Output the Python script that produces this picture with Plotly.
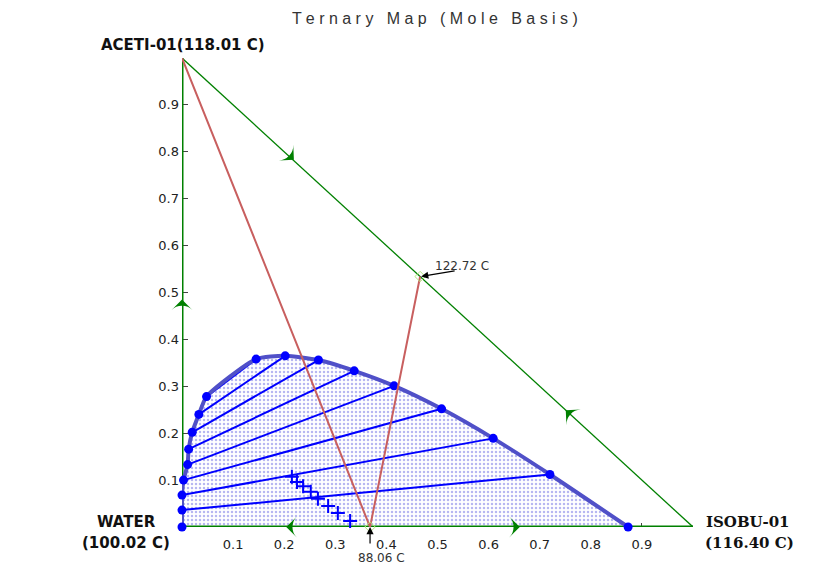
import plotly.graph_objects as go

# Liquid-liquid envelope (x = ISOBU-01, y = ACETI-01 mole fractions)
left_x = [0.0, 0.0, 0.0, 0.003, 0.011, 0.013, 0.020, 0.033, 0.048]
left_y = [0.0, 0.036, 0.068, 0.100, 0.133, 0.166, 0.202, 0.240, 0.278]
right_x = [0.873, 0.720, 0.609, 0.508, 0.415, 0.337, 0.267, 0.202, 0.145]
right_y = [0.0, 0.112, 0.189, 0.252, 0.301, 0.333, 0.356, 0.365, 0.358]

# Distillation boundary: ACETI vertex -> bottom azeotrope -> edge azeotrope
boundary_x = [0.0, 0.368, 0.466]
boundary_y = [1.0, 0.0, 0.534]
azeo_x = [0.466, 0.368]
azeo_y = [0.534, 0.0]
azeo_temps = ["122.72 C", "88.06 C"]

# Plait-point approach markers
plus_x = [0.215, 0.225, 0.237, 0.252, 0.266, 0.286, 0.305, 0.329]
plus_y = [0.107, 0.096, 0.087, 0.075, 0.060, 0.045, 0.030, 0.013]

# Direction arrows along the triangle edges
arrow_x = [0.0, 0.204, 0.661, 0.219, 0.751]
arrow_y = [0.485, 0.0, 0.0, 0.783, 0.249]
arrow_angle = [0, 270, 90, 132.5, 312.5]

tick_vals = [0.1, 0.2, 0.3, 0.4, 0.5, 0.6, 0.7, 0.8, 0.9]
tick_text = ["0.1", "0.2", "0.3", "0.4", "0.5", "0.6", "0.7", "0.8", "0.9"]

curve_x = left_x + right_x[::-1]
curve_y = left_y + right_y[::-1]

BLUE = "rgb(0,0,255)"
ENVELOPE = "rgb(80,80,200)"
GREEN = "rgb(0,128,0)"
RED = "rgb(200,95,95)"

fig = go.Figure()

# dotted two-phase region
fig.add_trace(go.Scatter(
    x=curve_x, y=curve_y, mode="lines", fill="toself",
    line=dict(width=0, shape="spline", smoothing=0.6),
    fillcolor="white",
    fillpattern=dict(shape=".", fgcolor="rgb(110,110,225)", bgcolor="white",
                     size=4, solidity=0.3),
    hoverinfo="skip", cliponaxis=False,
))

# triangle edges
fig.add_trace(go.Scatter(x=[0, 0], y=[0, 1], mode="lines",
                         line=dict(color=GREEN, width=3), cliponaxis=False))
fig.add_trace(go.Scatter(x=[0, 1], y=[0, 0], mode="lines",
                         line=dict(color=GREEN, width=3), cliponaxis=False))
fig.add_trace(go.Scatter(x=[0, 1], y=[1, 0], mode="lines",
                         line=dict(color=GREEN, width=1.3), cliponaxis=False))
fig.add_trace(go.Scatter(
    x=arrow_x, y=arrow_y, mode="markers", cliponaxis=False,
    marker=dict(symbol="arrow-wide", size=15, angle=arrow_angle, color=GREEN,
                line=dict(width=0)),
))

# tie lines
for lx, ly, rx, ry in zip(left_x[1:], left_y[1:], right_x[1:], right_y[1:]):
    fig.add_trace(go.Scatter(x=[lx, rx], y=[ly, ry], mode="lines",
                             line=dict(color=BLUE, width=2), cliponaxis=False))

# envelope curve
fig.add_trace(go.Scatter(
    x=curve_x, y=curve_y, mode="lines", cliponaxis=False,
    line=dict(color=ENVELOPE, width=4, shape="spline", smoothing=0.6),
))
fig.add_trace(go.Scatter(
    x=curve_x, y=curve_y, mode="markers", cliponaxis=False,
    marker=dict(color=BLUE, size=9),
))

# plus markers
fig.add_trace(go.Scatter(
    x=plus_x, y=plus_y, mode="markers", cliponaxis=False,
    marker=dict(symbol="cross-thin", size=10, line=dict(color=BLUE, width=2)),
))

# distillation boundary
fig.add_trace(go.Scatter(x=boundary_x, y=boundary_y, mode="lines",
                         line=dict(color=RED, width=2), cliponaxis=False))
fig.add_trace(go.Scatter(
    x=azeo_x, y=azeo_y, mode="markers", cliponaxis=False,
    marker=dict(symbol="diamond-open", size=8,
                line=dict(color="rgb(255,130,150)", width=1)),
))

label_font = dict(family="DejaVu Sans", size=15, color="#111")
serif_font = dict(family="DejaVu Serif", size=15, color="#111")
ann = []
ann.append(dict(x=0, y=1, xref="x", yref="y", text="<b>ACETI-01(118.01 C)</b>",
                showarrow=False, font=label_font, xshift=1, yshift=13))
ann.append(dict(x=0, y=0, xref="x", yref="y", text="<b>WATER</b>",
                showarrow=False, font=label_font, xshift=-56, yshift=5))
ann.append(dict(x=0, y=0, xref="x", yref="y", text="<b>(100.02 C)</b>",
                showarrow=False, font=label_font, xshift=-56, yshift=-16))
ann.append(dict(x=1, y=0, xref="x", yref="y", text="<b>ISOBU-01</b>",
                showarrow=False, font=serif_font, xshift=55, yshift=5))
ann.append(dict(x=1, y=0, xref="x", yref="y", text="<b>(116.40 C)</b>",
                showarrow=False, font=serif_font, xshift=56, yshift=-16))

temp_font = dict(family="DejaVu Sans", size=12, color="#333")
# edge azeotrope label
ann.append(dict(x=azeo_x[0], y=azeo_y[0], xref="x", yref="y", text="",
                showarrow=True, ax=36, ay=-6, arrowhead=2, arrowsize=1.2,
                arrowwidth=1.2, arrowcolor="black", standoff=1))
ann.append(dict(x=azeo_x[0], y=azeo_y[0], xref="x", yref="y", text=azeo_temps[0],
                showarrow=False, font=temp_font, xshift=42, yshift=11))
# bottom azeotrope label
ann.append(dict(x=azeo_x[1], y=azeo_y[1], xref="x", yref="y", text="",
                showarrow=True, ax=0, ay=18, arrowhead=2, arrowsize=1.2,
                arrowwidth=1.2, arrowcolor="black", standoff=0))
ann.append(dict(x=azeo_x[1], y=azeo_y[1], xref="x", yref="y", text=azeo_temps[1],
                showarrow=False, font=temp_font, xshift=11, yshift=-31))

fig.update_layout(
    width=819, height=567,
    margin=dict(l=182, r=126, t=58, b=40),
    paper_bgcolor="white", plot_bgcolor="white",
    showlegend=False,
    title=dict(text="T e r n a r y   M a p   ( M o l e   B a s i s )",
               x=0.531, xanchor="center", y=0.968, yanchor="middle",
               font=dict(family="Liberation Sans", size=16, color="#333")),
    annotations=ann,
    xaxis=dict(range=[0, 1], tickvals=tick_vals, ticktext=tick_text,
               ticks="inside", ticklen=4, tickcolor="#444",
               ticklabelstandoff=8,
               showgrid=False, zeroline=False, showline=False,
               layer="below traces",
               tickfont=dict(family="DejaVu Sans", size=13, color="#222")),
    yaxis=dict(range=[0, 1], tickvals=tick_vals, ticktext=tick_text,
               ticks="inside", ticklen=6, tickcolor="#444",
               ticklabelstandoff=2,
               showgrid=False, zeroline=False, showline=False,
               layer="below traces",
               tickfont=dict(family="DejaVu Sans", size=13, color="#222")),
)

fig.write_html("out.html")
